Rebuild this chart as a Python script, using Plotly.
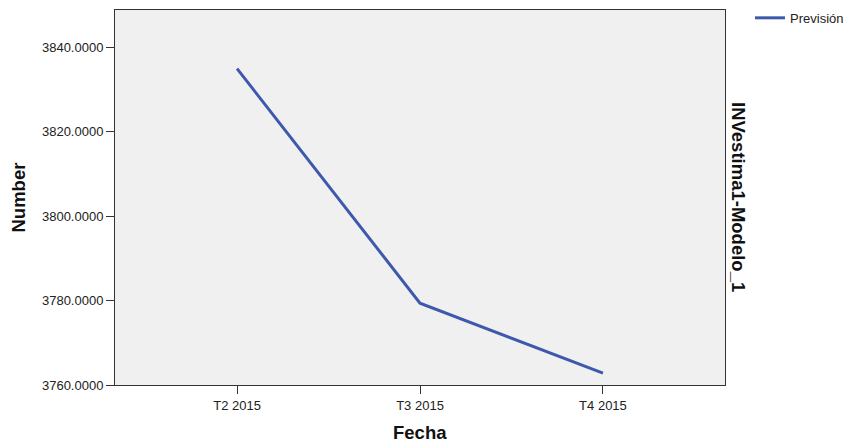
import plotly.graph_objects as go

categories = ["T2 2015", "T3 2015", "T4 2015"]
prevision = [3835.0, 3779.4, 3762.8]
y_ticks = [3760, 3780, 3800, 3820, 3840]

FONT = "Liberation Sans, Arial, sans-serif"

fig = go.Figure()
fig.add_trace(go.Scatter(
    x=categories, y=prevision, mode="lines", name="Previsión",
    line=dict(color="#3E58AC", width=3),
))

fig.update_layout(
    width=848, height=444,
    margin=dict(l=115, r=123, t=10, b=59, autoexpand=False),
    paper_bgcolor="white", plot_bgcolor="#F0F0F0",
    font=dict(family=FONT, size=13, color="#222"),
    showlegend=True,
    legend=dict(x=1.041, y=1.019, xanchor="left", yanchor="top",
                font=dict(size=13, color="#222"), bgcolor="rgba(0,0,0,0)",
                itemwidth=30, tracegroupgap=0),
    xaxis=dict(type="category", range=[-0.667, 2.667], showgrid=False, zeroline=False,
               showline=True, linecolor="#333", linewidth=1, mirror=True,
               ticks="outside", ticklen=8, tickcolor="#333", tickwidth=1,
               tickfont=dict(size=13, color="#222"), automargin=False),
    yaxis=dict(range=[3760, 3848.9], showgrid=False, zeroline=False,
               showline=True, linecolor="#333", linewidth=1, mirror=True,
               ticks="outside", ticklen=8, tickcolor="#333", tickwidth=1,
               tickvals=y_ticks, tickformat=".4f",
               tickfont=dict(size=13, color="#222"), automargin=False),
    annotations=[
        dict(text="<b>Number</b>", xref="paper", yref="paper",
             x=(18 - 115) / 610, y=0.5, xanchor="center", yanchor="middle",
             textangle=-90, showarrow=False, font=dict(size=18.5, color="#111")),
        dict(text="<b>Fecha</b>", xref="paper", yref="paper",
             x=(420 - 115) / 610, y=(385 - 432) / 375, xanchor="center", yanchor="middle",
             showarrow=False, font=dict(size=18.5, color="#111")),
        dict(text="<b>INVestima1-Modelo_1</b>", xref="paper", yref="paper",
             x=(739 - 115) / 610, y=(385 - 197) / 375, xanchor="center", yanchor="middle",
             textangle=90, showarrow=False, font=dict(size=18.5, color="#111")),
    ],
)

fig.write_html("out.html", config={"displayModeBar": False},
               post_script="document.body.style.margin='0px';")
